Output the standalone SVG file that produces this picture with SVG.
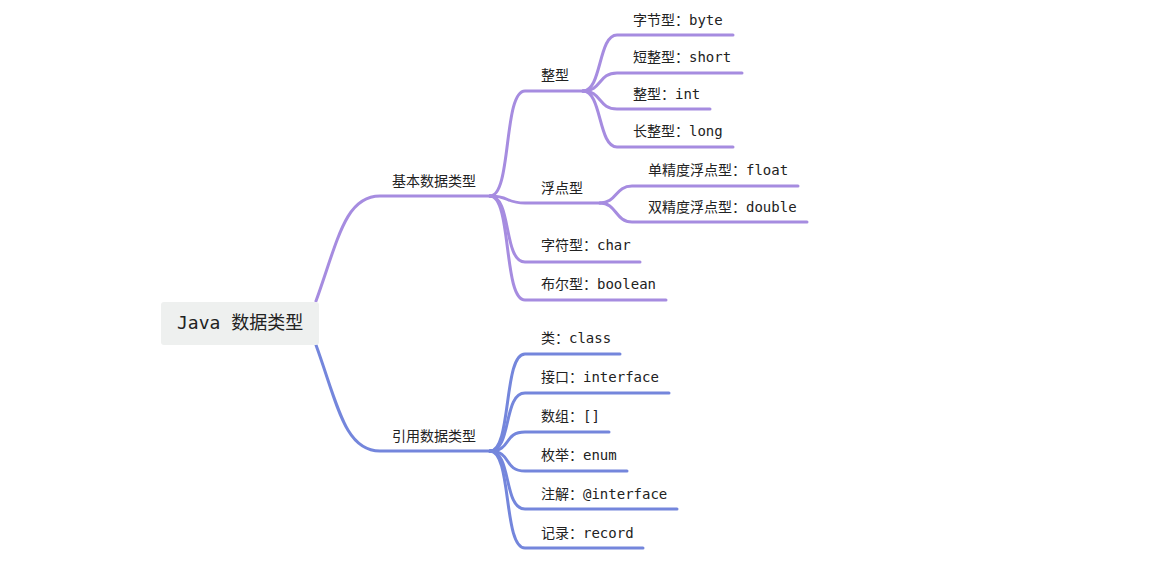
<svg xmlns="http://www.w3.org/2000/svg" width="1176" height="561" viewBox="0 0 1176 561">
<style>
.p{fill:none;stroke:#a68ce0;stroke-width:3;stroke-linecap:round}
.b{fill:none;stroke:#7486dc;stroke-width:3;stroke-linecap:round}
.t{font-family:"DejaVu Sans Mono","Liberation Mono","Noto Sans CJK SC",monospace;font-size:14px;fill:#222}
.c{font-family:"Noto Sans CJK SC",sans-serif;font-size:14px;fill:#222}
</style>
<rect width="1176" height="561" fill="#fff"/>
<g id="connectors">
<path class="p" d="M316,301 C338,240 345,196 380,196 L490,196"/>
<path class="b" d="M316,345 C338,406 345,451 380,451 L490,451"/>
<path class="p" d="M490,196 C512,196 503,91 525,91 L583,91"/>
<path class="p" d="M490,196 C510,196 505,203 525,203 L600,203"/>
<path class="p" d="M490,196 C512,196 503,262 525,262 L640,262"/>
<path class="p" d="M490,196 C512,196 503,300 525,300 L666,300"/>
<path class="p" d="M583,91 C602,91 598,35 617,35 L733,35"/>
<path class="p" d="M583,91 C602,91 598,73 617,73 L742,73"/>
<path class="p" d="M583,91 C602,91 598,109 617,109 L710,109"/>
<path class="p" d="M583,91 C602,91 598,147 617,147 L733,147"/>
<path class="p" d="M600,203 C617,203 615,186 632,186 L798,186"/>
<path class="p" d="M600,203 C617,203 615,222 632,222 L807,222"/>
<path class="b" d="M490,451 C512,451 503,354 525,354 L620,354"/>
<path class="b" d="M490,451 C512,451 503,393 525,393 L669,393"/>
<path class="b" d="M490,451 C512,451 503,432 525,432 L609,432"/>
<path class="b" d="M490,451 C512,451 503,471 525,471 L627,471"/>
<path class="b" d="M490,451 C512,451 503,509 525,509 L677,509"/>
<path class="b" d="M490,451 C512,451 503,548 525,548 L643,548"/>
</g>
<g id="root">
<rect x="161" y="302" width="158" height="43" rx="3" fill="#eef0ef"/>
<text x="177" y="329" class="t" style="font-size:18px">Java <tspan class="c" style="font-size:18px">数据类型</tspan></text>
</g>
<g id="basic"><text x="392" y="186" class="c">基本数据类型</text></g>
<g id="ref"><text x="392" y="441" class="c">引用数据类型</text></g>
<g id="int"><text x="541" y="80" class="c">整型</text></g>
<g id="floatg"><text x="541" y="193" class="c">浮点型</text></g>
<g id="char"><text x="541" y="250" class="t"><tspan class="c">字符型：</tspan>char</text></g>
<g id="bool"><text x="541" y="289" class="t"><tspan class="c">布尔型：</tspan>boolean</text></g>
<g id="byte"><text x="633" y="25" class="t"><tspan class="c">字节型：</tspan>byte</text></g>
<g id="short"><text x="633" y="62" class="t"><tspan class="c">短整型：</tspan>short</text></g>
<g id="intt"><text x="633" y="99" class="t"><tspan class="c">整型：</tspan>int</text></g>
<g id="long"><text x="633" y="136" class="t"><tspan class="c">长整型：</tspan>long</text></g>
<g id="float"><text x="648" y="175" class="t"><tspan class="c">单精度浮点型：</tspan>float</text></g>
<g id="double"><text x="648" y="212" class="t"><tspan class="c">双精度浮点型：</tspan>double</text></g>
<g id="class"><text x="541" y="343" class="t"><tspan class="c">类：</tspan>class</text></g>
<g id="interface"><text x="541" y="382" class="t"><tspan class="c">接口：</tspan>interface</text></g>
<g id="array"><text x="541" y="421" class="t"><tspan class="c">数组：</tspan>[]</text></g>
<g id="enum"><text x="541" y="460" class="t"><tspan class="c">枚举：</tspan>enum</text></g>
<g id="annotation"><text x="541" y="499" class="t"><tspan class="c">注解：</tspan>@interface</text></g>
<g id="record"><text x="541" y="538" class="t"><tspan class="c">记录：</tspan>record</text></g>
</svg>
